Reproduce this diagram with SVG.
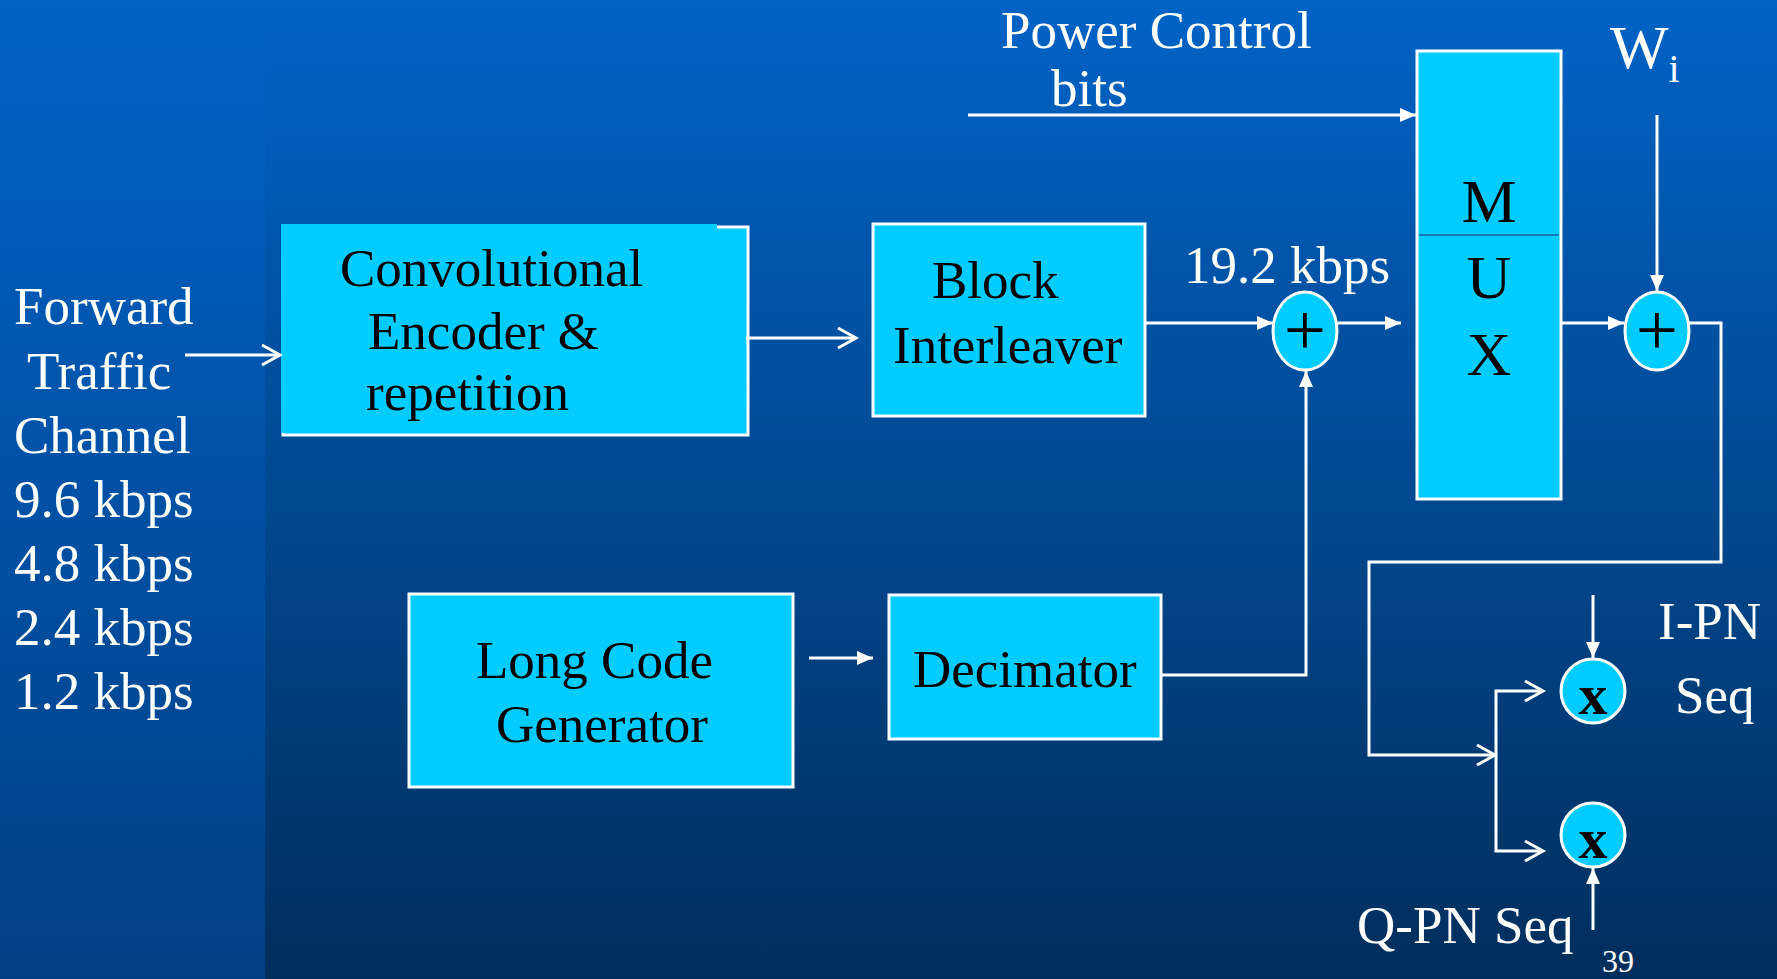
<svg xmlns="http://www.w3.org/2000/svg" width="1777" height="979" viewBox="0 0 1777 979">
<defs>
<linearGradient id="bg" x1="0" y1="0" x2="0" y2="1">
<stop offset="0" stop-color="#0063C6"/>
<stop offset="1" stop-color="#002E5C"/>
</linearGradient>
<linearGradient id="bgl" x1="0" y1="0" x2="0" y2="1">
<stop offset="0" stop-color="#0063C6"/>
<stop offset="1" stop-color="#003F84"/>
</linearGradient>
<marker id="fa" markerUnits="userSpaceOnUse" markerWidth="16" markerHeight="14" refX="16" refY="7" orient="auto" overflow="visible">
<path d="M0,0 L16,7 L0,14 z" fill="#fff"/>
</marker>
<marker id="oa" markerUnits="userSpaceOnUse" markerWidth="20" markerHeight="22" refX="19" refY="11" orient="auto" overflow="visible">
<path d="M1,1 L19,11 L1,21" fill="none" stroke="#fff" stroke-width="3"/>
</marker>
</defs>
<style>
.box{fill:#00CCFF;stroke:#fff;stroke-width:3}
.bt{font-family:"Liberation Serif","Times New Roman",serif;font-size:53px;fill:#000}
.wt{font-family:"Liberation Serif","Times New Roman",serif;font-size:53px;fill:#fff}
.big{font-size:62px;text-anchor:middle}
.pl{font-family:"Liberation Serif","Times New Roman",serif;font-size:75px;fill:#000;text-anchor:middle}
.mx{font-family:"Liberation Serif","Times New Roman",serif;font-size:58px;font-weight:bold;fill:#000;text-anchor:middle}
.ln{fill:none;stroke:#fff;stroke-width:3}
.lf{marker-end:url(#fa)}
.lo{marker-end:url(#oa)}
</style>
<rect x="0" y="0" width="1777" height="979" fill="url(#bg)"/>
<rect x="0" y="0" width="265" height="979" fill="url(#bgl)"/>

<g id="input-label">
<text class="wt" x="14" y="324">Forward</text>
<text class="wt" x="27" y="389">Traffic</text>
<text class="wt" x="14" y="453">Channel</text>
<text class="wt" x="14" y="517">9.6 kbps</text>
<text class="wt" x="14" y="581">4.8 kbps</text>
<text class="wt" x="14" y="645">2.4 kbps</text>
<text class="wt" x="14" y="709">1.2 kbps</text>
</g>

<g id="conv-encoder">
<rect class="box" x="283" y="227" width="465" height="208"/>
<rect x="281" y="224" width="436" height="209" fill="#00CCFF"/>
<text class="bt" x="340" y="286">Convolutional</text>
<text class="bt" x="368" y="349">Encoder &amp;</text>
<text class="bt" x="366" y="410">repetition</text>
</g>

<g id="block-interleaver">
<rect class="box" x="873" y="224" width="272" height="192"/>
<text class="bt" x="932" y="298">Block</text>
<text class="bt" x="893" y="363">Interleaver</text>
</g>

<g id="long-code-generator">
<rect class="box" x="409" y="594" width="384" height="193"/>
<text class="bt" x="476" y="678">Long Code</text>
<text class="bt" x="496" y="742">Generator</text>
</g>

<g id="decimator">
<rect class="box" x="889" y="595" width="272" height="144"/>
<text class="bt" x="913" y="687">Decimator</text>
</g>

<g id="mux">
<rect class="box" x="1417" y="51" width="144" height="448"/>
<line x1="1419" y1="235" x2="1559" y2="235" stroke="#1C5C9E" stroke-width="1.5"/>
<text class="bt big" x="1489" y="222">M</text>
<text class="bt big" x="1489" y="298">U</text>
<text class="bt big" x="1489" y="375">X</text>
</g>

<g id="adder1">
<ellipse cx="1305" cy="331" rx="32" ry="39" fill="#00CCFF" stroke="#fff" stroke-width="3"/>
<text class="pl" x="1305" y="355">+</text>
</g>

<g id="adder2">
<ellipse cx="1657" cy="331" rx="32" ry="39" fill="#00CCFF" stroke="#fff" stroke-width="3"/>
<text class="pl" x="1657" y="355">+</text>
</g>

<g id="mult-i">
<ellipse cx="1593" cy="691" rx="32" ry="32" fill="#00CCFF" stroke="#fff" stroke-width="3"/>
<text class="mx" x="1593" y="714">x</text>
</g>

<g id="mult-q">
<ellipse cx="1593" cy="835" rx="32" ry="32" fill="#00CCFF" stroke="#fff" stroke-width="3"/>
<text class="mx" x="1593" y="858">x</text>
</g>

<g id="labels">
<text class="wt" x="1001" y="48">Power Control</text>
<text class="wt" x="1051" y="106">bits</text>
<text class="wt" x="1184" y="283">19.2 kbps</text>
<text class="wt" x="1610" y="68" style="font-size:62px">W<tspan style="font-size:40px" dy="14">i</tspan></text>
<text class="wt" x="1658" y="639">I-PN</text>
<text class="wt" x="1675" y="713">Seq</text>
<text class="wt" x="1357" y="943">Q-PN Seq</text>
<text class="wt" x="1602" y="972" style="font-size:32px">39</text>
</g>

<g id="connectors">
<path class="ln lo" d="M185,355 L280,355"/>
<path class="ln lo" d="M746,338 L856,338"/>
<path class="ln lf" d="M1146,323 L1273,323"/>
<path class="ln lf" d="M1338,323 L1401,323"/>
<path class="ln lf" d="M968,115 L1416,115"/>
<path class="ln lf" d="M1562,323 L1624,323"/>
<path class="ln lf" d="M1657,115 L1657,291"/>
<path class="ln lf" d="M1161,675 L1306,675 L1306,371"/>
<path class="ln lf" d="M809,658 L873,658" stroke-width="4"/>
<path class="ln lo" d="M1689,323 L1721,323 L1721,562 L1369,562 L1369,755 L1495,755"/>
<path class="ln lo" d="M1496,755 L1496,691 L1543,691"/>
<path class="ln lo" d="M1496,755 L1496,851 L1543,851"/>
<path class="ln lf" d="M1593,595 L1593,658"/>
<path class="ln lf" d="M1593,930 L1593,868"/>
</g>
</svg>
